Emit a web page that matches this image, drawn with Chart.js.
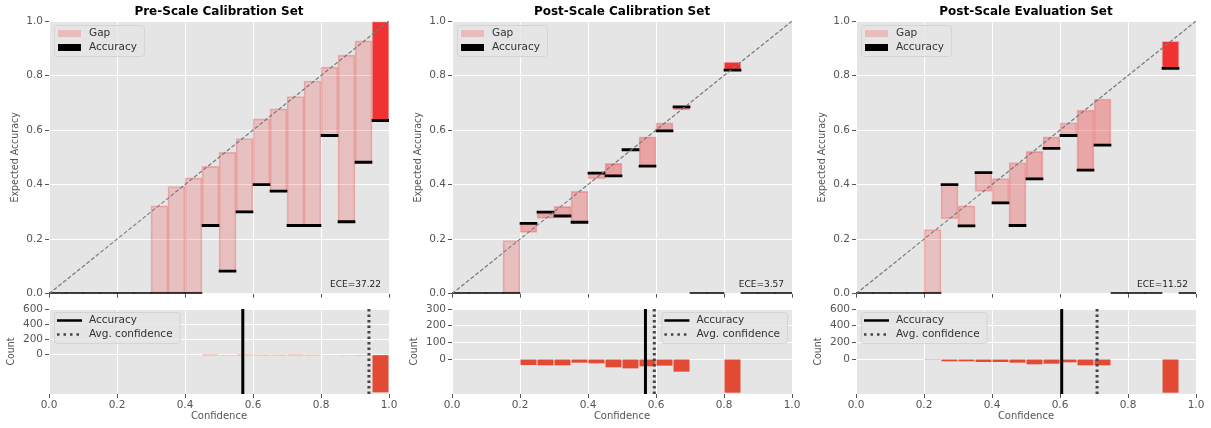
<!DOCTYPE html>
<html>
<head>
<meta charset="utf-8">
<title>Reliability diagrams</title>
<script src="https://cdn.jsdelivr.net/npm/chart.js@4.4.0/dist/chart.umd.min.js"></script>
<style>
    body { margin: 0; background: #fff; width: 1211px; height: 428px; position: relative; overflow: hidden; }
    canvas { position: absolute; }
</style>
</head>
<body>
<canvas id="top1" width="400" height="302" style="left:0;top:0"></canvas>
<canvas id="top2" width="400" height="302" style="left:403px;top:0"></canvas>
<canvas id="top3" width="400" height="302" style="left:807px;top:0"></canvas>
<canvas id="bot1" width="400" height="128" style="left:0;top:300px"></canvas>
<canvas id="bot2" width="400" height="128" style="left:403px;top:300px"></canvas>
<canvas id="bot3" width="400" height="128" style="left:807px;top:300px"></canvas>
<script>
// 20 confidence bins, width 0.05
const BINS = ["0.00", "0.05", "0.10", "0.15", "0.20", "0.25", "0.30", "0.35", "0.40", "0.45",
              "0.50", "0.55", "0.60", "0.65", "0.70", "0.75", "0.80", "0.85", "0.90", "0.95"];

// pre-scale, calibration set
const PRE_ACC   = [0, 0, 0, 0, 0, 0, 0, 0, 0, 0.25, 0.083, 0.30, 0.40, 0.376, 0.25, 0.25, 0.58, 0.264, 0.482, 0.635];
const PRE_CONF  = [null, null, null, null, null, null, 0.322, 0.393, 0.425, 0.467, 0.518, 0.569, 0.641, 0.678, 0.723, 0.780, 0.831, 0.875, 0.927, 0.998];
const PRE_COUNT = [0, 0, 0, 0, 0, 0, 0, 0, 0, 1, 4, 1, 2, 2, 1, 2, 7, 8, 9, 495];
const PRE_AVG_ACC = 0.570;
const PRE_AVG_CONF = 0.941;

// post-scale, calibration set
const CAL_ACC   = [0, 0, 0, 0, 0.258, 0.299, 0.285, 0.262, 0.442, 0.432, 0.528, 0.468, 0.597, 0.685, 0, 0, 0.820, 0, 0, 0];
const CAL_CONF  = [null, null, null, 0.195, 0.225, 0.276, 0.320, 0.375, 0.422, 0.478, 0.524, 0.575, 0.627, 0.674, null, null, 0.849, null, null, null];
const CAL_COUNT = [0, 0, 0, 3, 36, 38, 38, 22, 26, 50, 56, 44, 40, 76, 0, 0, 202, 0, 0, 0];
const CAL_AVG_ACC = 0.569;
const CAL_AVG_CONF = 0.595;

// post-scale, evaluation set
const EVAL_ACC   = [0, 0, 0, 0, 0, 0.400, 0.249, 0.444, 0.333, 0.25, 0.421, 0.533, 0.580, 0.453, 0.545, 0, 0, 0, 0.826, 0];
const EVAL_CONF  = [null, null, null, null, 0.235, 0.275, 0.322, 0.375, 0.422, 0.481, 0.522, 0.575, 0.627, 0.673, 0.714, null, null, null, 0.925, null];
const EVAL_COUNT = [0, 0, 0, 0, 2, 28, 28, 36, 36, 44, 64, 56, 40, 76, 76, 0, 0, 0, 404, 0];
const EVAL_AVG_ACC = 0.605;
const EVAL_AVG_CONF = 0.709;

const ACC_HALF = 0.004;   // half thickness of the accuracy marks
const TICK_FONT = { family: "DejaVu Sans", size: 10.5 };
const YTITLE_FONT = { family: "'DejaVu Sans Condensed', 'Liberation Sans Narrow', 'DejaVu Sans'", size: 10.5 };
const GRID = { color: "#ffffff", lineWidth: 1, tickColor: "#555", tickLength: 4, offset: false };

const bgPlugin = {
    id: "plotBg",
    beforeDraw(chart) {
        const a = chart.chartArea;
        chart.ctx.save();
        chart.ctx.fillStyle = "#e5e5e5";
        chart.ctx.fillRect(a.left, a.top, a.right - a.left, a.bottom - a.top);
        chart.ctx.restore();
    }
};

const boxLegend = {
    id: "boxLegend",
    afterDatasetsDraw(chart, args, opts) {
        if (!opts.items) return;
        const ctx = chart.ctx;
        const a = chart.chartArea;
        ctx.save();
        ctx.font = "10.5px 'DejaVu Sans'";
        const textW = Math.max(...opts.items.map(it => ctx.measureText(it.label).width));
        const w = 35 + textW + 7, h = 31;
        const x = opts.align === "right" ? a.right - 5 - w : a.left + 5;
        const y = a.top + opts.top;
        ctx.fillStyle = "rgba(229,229,229,0.8)";
        ctx.strokeStyle = "#d4d4d4";
        ctx.lineWidth = 1;
        ctx.beginPath();
        ctx.roundRect(x + 0.5, y + 0.5, w, h, 3);
        ctx.fill();
        ctx.stroke();
        opts.items.forEach((it, i) => {
            const cy = y + 8.5 + i * 14;
            if (it.kind === "box") {
                ctx.fillStyle = it.color;
                ctx.fillRect(x + 4, cy - 3.5, 23, 7);
            } else {
                ctx.strokeStyle = it.color;
                ctx.lineWidth = 2.5;
                ctx.setLineDash(it.kind === "dots" ? [2.5, 4] : []);
                ctx.beginPath();
                ctx.moveTo(x + 3, cy);
                ctx.lineTo(x + 28, cy);
                ctx.stroke();
                ctx.setLineDash([]);
            }
            ctx.fillStyle = "#333";
            ctx.textBaseline = "middle";
            ctx.fillText(it.label, x + 35, cy);
        });
        ctx.restore();
    }
};

const eceLabel = {
    id: "ece",
    afterDatasetsDraw(chart, args, opts) {
        if (!opts.text) return;
        const ctx = chart.ctx;
        const a = chart.chartArea;
        ctx.save();
        ctx.font = "9px 'DejaVu Sans'";
        ctx.fillStyle = "#222";
        ctx.textAlign = "right";
        ctx.textBaseline = "middle";
        ctx.fillText(opts.text, a.right - 8, a.bottom - 9);
        ctx.restore();
    }
};

Chart.register(bgPlugin, boxLegend, eceLabel);

function gapColors(counts) {
    const max = Math.max(...counts);
    return counts.map(c => "rgba(240,50,50," + (0.2 + 0.8 * c / max).toFixed(3) + ")");
}

function confAxis(showLabels) {
    return {
        type: "linear", position: "bottom", min: 0, max: 1, offset: false,
        ticks: { display: showLabels, stepSize: 0.2, callback: v => v.toFixed(1), color: "#555", font: TICK_FONT, padding: 1 },
        grid: GRID, border: { display: false }
    };
}

function makeTop(id, title, acc, conf, counts, ece) {
    const x2 = confAxis(false);
    x2.afterFit = s => { s.height = 7; };
    new Chart(document.getElementById(id), {
        type: "bar",
        data: {
            labels: BINS,
            datasets: [
                {
                    type: "line", xAxisID: "x2", data: [{ x: 0, y: 0 }, { x: 1, y: 1 }],
                    borderColor: "#7a7a7a", borderWidth: 1.2, borderDash: [4, 2], pointRadius: 0, order: 0
                },
                {
                    label: "Accuracy", data: acc.map(a => [a - ACC_HALF, a + ACC_HALF]),
                    backgroundColor: "#000", grouped: false, categoryPercentage: 1, barPercentage: 1, order: 1
                },
                {
                    label: "Gap", data: conf.map((c, i) => c === null ? null : [acc[i], c]),
                    backgroundColor: gapColors(counts), borderColor: "rgba(240,50,50,0.3)", borderWidth: 1,
                    borderSkipped: false, grouped: false, categoryPercentage: 1, barPercentage: 1, order: 2
                }
            ]
        },
        options: {
            responsive: false,
            animation: false,
            events: [],
            layout: { padding: { left: 0, right: 11, top: 0, bottom: 0 } },
            plugins: {
                legend: { display: false },
                tooltip: { enabled: false },
                title: {
                    display: true, text: title, fullSize: false, color: "#000",
                    font: { family: "DejaVu Sans", size: 12, weight: "bold" },
                    padding: { top: 5, bottom: 1.6 }
                },
                boxLegend: {
                    top: 4,
                    items: [
                        { label: "Gap", kind: "box", color: "rgba(240,50,50,0.23)" },
                        { label: "Accuracy", kind: "box", color: "#000" }
                    ]
                },
                ece: { text: ece }
            },
            scales: {
                x: { display: false },
                x2: x2,
                y: {
                    min: 0, max: 1,
                    ticks: { stepSize: 0.2, callback: v => v.toFixed(1), color: "#555", font: TICK_FONT, padding: 2 },
                    grid: GRID, border: { display: false },
                    title: { display: true, text: "Expected Accuracy", color: "#555", font: YTITLE_FONT, padding: { top: 9, bottom: 0 } },
                    afterFit: s => { s.width = 49; }
                }
            }
        }
    });
}

function makeBottom(id, counts, avgAcc, avgConf, yMin, yMax, yTicks, legendAlign) {
    const x2 = confAxis(true);
    x2.title = { display: true, text: "Confidence", color: "#555", font: { family: "DejaVu Sans", size: 10 }, padding: { top: 0, bottom: 6 } };
    x2.afterFit = s => { s.height = 34; };
    new Chart(document.getElementById(id), {
        type: "bar",
        data: {
            labels: BINS,
            datasets: [
                {
                    type: "line", xAxisID: "x2", data: [{ x: avgAcc, y: yMin }, { x: avgAcc, y: yMax }],
                    borderColor: "#000", borderWidth: 3, pointRadius: 0, order: 0
                },
                {
                    type: "line", xAxisID: "x2", data: [{ x: avgConf, y: yMin }, { x: avgConf, y: yMax }],
                    borderColor: "#444", borderWidth: 3, borderDash: [2.5, 3], pointRadius: 0, order: 0
                },
                {
                    label: "Count", data: counts.map(c => -c),
                    backgroundColor: "#e24a33", grouped: false, categoryPercentage: 1, barPercentage: 0.94, order: 1
                }
            ]
        },
        options: {
            responsive: false,
            animation: false,
            events: [],
            layout: { padding: { left: 0, right: 11, top: 9, bottom: 0 } },
            plugins: {
                legend: { display: false },
                tooltip: { enabled: false },
                boxLegend: {
                    top: 3, align: legendAlign,
                    items: [
                        { label: "Accuracy", kind: "line", color: "#000" },
                        { label: "Avg. confidence", kind: "dots", color: "#444" }
                    ]
                }
            },
            scales: {
                x: { display: false },
                x2: x2,
                y: {
                    min: yMin, max: yMax,
                    afterBuildTicks: s => { s.ticks = yTicks.map(v => ({ value: v })); },
                    ticks: { color: "#555", font: TICK_FONT, padding: 2 },
                    grid: GRID, border: { display: false },
                    title: { display: true, text: "Count", color: "#555", font: YTITLE_FONT, padding: { top: 5, bottom: 0 } },
                    afterFit: s => { s.width = 49; }
                }
            }
        }
    });
}

makeTop("top1", "Pre-Scale Calibration Set", PRE_ACC, PRE_CONF, PRE_COUNT, "ECE=37.22");
makeTop("top2", "Post-Scale Calibration Set", CAL_ACC, CAL_CONF, CAL_COUNT, "ECE=3.57");
makeTop("top3", "Post-Scale Evaluation Set", EVAL_ACC, EVAL_CONF, EVAL_COUNT, "ECE=11.52");

makeBottom("bot1", PRE_COUNT, PRE_AVG_ACC, PRE_AVG_CONF, -517, 600, [0, 200, 400, 600], "left");
makeBottom("bot2", CAL_COUNT, CAL_AVG_ACC, CAL_AVG_CONF, -210, 300, [0, 100, 200, 300], "right");
makeBottom("bot3", EVAL_COUNT, EVAL_AVG_ACC, EVAL_AVG_CONF, -420, 600, [0, 200, 400, 600], "left");
</script>
</body>
</html>
